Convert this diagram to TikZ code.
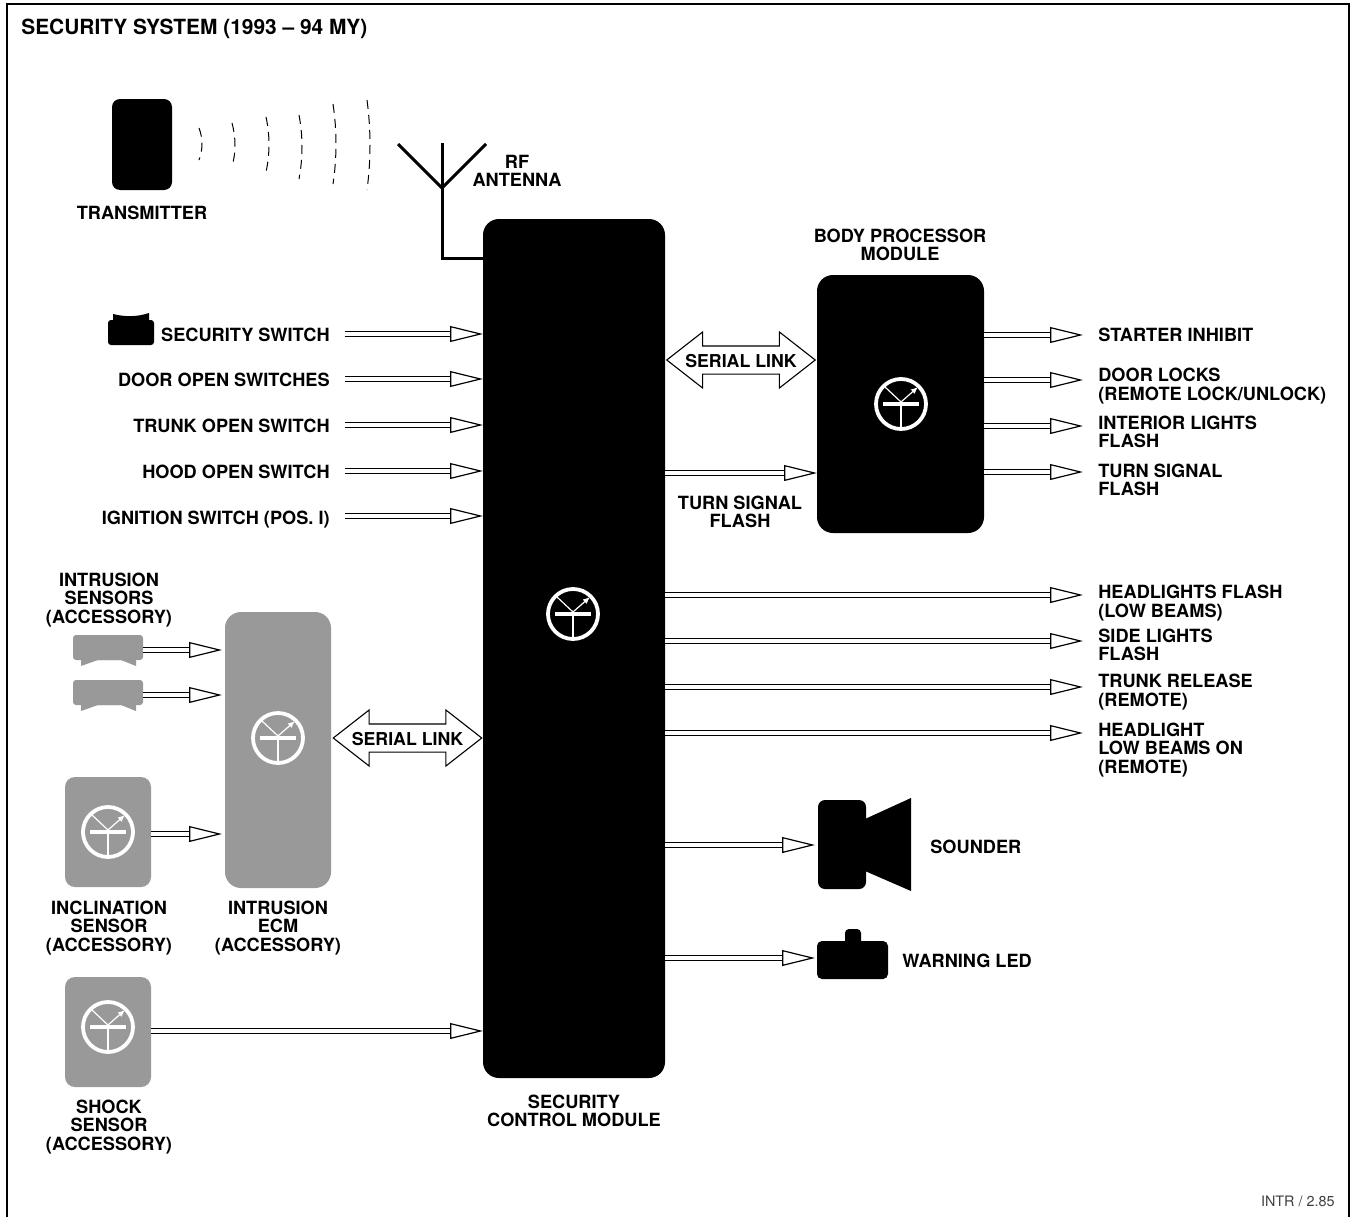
\documentclass[tikz,border=0pt]{standalone}
\usepackage{fontspec}
\setmainfont{TeX Gyre Heros}
\usetikzlibrary{
  arrows.meta,
  calc,
  shapes.arrows
}
\definecolor{modgray}{RGB}{153,153,153}
\newlength{\px}
\setlength{\px}{0.02cm}
\tikzset{
  sigflow/.style={
    draw=black,line width=1.2\px,double=white,double distance=4.4\px,
    -{Triangle[open,fill=white,length=18.7pt,width=9pt,line width=0.68pt]}
  },
  module/.style={fill=black,rounded corners=#1\px},
  module/.default=16,
  graymodule/.style={fill=modgray,rounded corners=#1\px},
  graymodule/.default=10,
  lbl/.style={font=\fontsize{10.35pt}{10.4pt}\selectfont\bfseries,align=center,inner sep=0pt},
  lbl left/.style={lbl,anchor=west,align=left},
  lbl right/.style={lbl,anchor=east,align=right},
  seriallink/.style={
    double arrow,draw=black,fill=white,line width=1.1\px,lbl,
    font=\fontsize{10.1pt}{10.4pt}\selectfont\bfseries,
    double arrow head extend=14\px,double arrow tip angle=76,
    minimum height=147\px,text height=14\px,text depth=0pt,inner ysep=6.5\px,inner xsep=0pt
  },
  wave/.style={line width=1\px,dash pattern=on 9\px off 6\px}
}
\newcommand{\chipmark}[1]{%
  \begin{scope}[shift={(#1)},white]
    \draw[line width=3.8\px] (0,0) circle (25\px);
    \draw[line width=3.6\px] (-18,0) -- (18,0);
    \draw[line width=1.2\px] (0,0) -- (0,25);
    \draw[line width=1.2\px] (0,-2) -- (-16,-17);
    \draw[line width=1.2\px,-{Latex[length=4pt,width=3.4pt]}] (0,-2) -- (17,-17);
  \end{scope}%
}

\begin{document}
\begin{tikzpicture}[x=1\px,y=-1\px]
  \useasboundingbox (0,0) rectangle (1352,1217);

  % Frame, open at the bottom.
  \draw[line width=1.2\px] (7,1217) -- (7,4) -- (1349,4) -- (1349,1217);
  \node[lbl left,font=\fontsize{11.9pt}{12pt}\selectfont\bfseries] (title) at (21,29) {SECURITY SYSTEM (1993 – 94 MY)};
  \node[anchor=east,inner sep=0pt,font=\fontsize{8.2pt}{9pt}\selectfont,text=black!75] (ref) at (1335,1201) {INTR / 2.85};

  % Modules.
  \path[module] (483,219) rectangle (665,1078);
  \coordinate (scmw) at (483,600);
  \coordinate (scme) at (665,600);
  \path[module] (817,275) rectangle (984,533);
  \coordinate (bpmw) at (817,400);
  \coordinate (bpme) at (984,400);
  \path[graymodule=16] (225,612) rectangle (331,888);
  \coordinate (ecmw) at (222,700);
  \path[graymodule] (65,777) rectangle (151,887);
  \path[graymodule] (65,977) rectangle (151,1087);
  \chipmark{573,614}
  \chipmark{901,404}
  \chipmark{278,738}
  \chipmark{108,832}
  \chipmark{108,1027}
  \node[lbl] (scmlabel) at (574,1111) {SECURITY\\CONTROL MODULE};
  \node[lbl] (bpmlabel) at (900,245) {BODY PROCESSOR\\MODULE};
  \node[lbl] (ecmlabel) at (278,928) {INTRUSION\\ECM\\(ACCESSORY)};
  \node[lbl] (inclabel) at (109,928) {INCLINATION\\SENSOR\\(ACCESSORY)};
  \node[lbl] (shklabel) at (109,1127) {SHOCK\\SENSOR\\(ACCESSORY)};
  \node[lbl] (snslabel) at (109,600) {INTRUSION\\SENSORS\\(ACCESSORY)};

  % Transmitter and antenna.
  \path[module=8] (112,99) rectangle (172,190);
  \node[lbl] (txlabel) at (142,213) {TRANSMITTER};
  \foreach \x/\top/\bot in {202/128/160,235/123/167,269/117/172,302/115/179,336/104/184,370/100/190} {
    \draw[wave] (\x-3,\top) .. controls (\x+1,{\top+(\bot-\top)/3}) and (\x+1,{\bot-(\bot-\top)/3}) .. (\x-3,\bot);
  }
  \coordinate (ant) at (442,188);
  \coordinate (antfoot) at (442,258);
  \draw[line width=3\px] (398,144) -- (ant) -- (486,144);
  \draw[line width=3\px] (442,143) -- (ant) -- (antfoot) -- (antfoot -| scmw);
  \node[lbl] (antlabel) at (517,171) {RF\\ANTENNA};

  % Inputs.
  \path[module=3] (108,320) rectangle (154,345);
  \fill (113,320) -- (113,314) .. controls (125,317) and (137,317) .. (149,313) -- (149,320) -- cycle;
  \node[lbl right] (secsw) at (330,335) {SECURITY SWITCH};
  \node[lbl right] (doorsw) at (330,380) {DOOR OPEN SWITCHES};
  \node[lbl right] (trunksw) at (330,426) {TRUNK OPEN SWITCH};
  \node[lbl right] (hoodsw) at (330,472) {HOOD OPEN SWITCH};
  \node[lbl right] (ignsw) at (330,520) {IGNITION SWITCH (POS. I)};
  \foreach \y in {334,379,425,471,516} {
    \coordinate (in) at (345,\y);
    \draw[sigflow] (in) -- (in -| scmw);
  }

  % Intrusion sensors.
  \foreach \y in {635,680} {
    \path[graymodule=3] (73,\y) rectangle (143,\y+25);
    \fill[modgray] (81,\y+24) -- (81,\y+31) -- (98,\y+25) -- (121,\y+25) -- (136,\y+31) -- (136,\y+24) -- cycle;
  }
  \foreach \x/\y in {143/650,143/695,151/834} {
    \coordinate (sns) at (\x,\y);
    \draw[sigflow] (sns) -- (sns -| ecmw);
  }
  \coordinate (shk) at (151,1031);
  \draw[sigflow] (shk) -- (shk -| scmw);

  % Serial links.
  \node[seriallink] (link1) at (741,360) {SERIAL LINK};
  \node[seriallink] (link2) at (407.5,738) {SERIAL LINK};

  % Outputs.
  \coordinate (tsf) at (665,473);
  \draw[sigflow] (tsf) -- (tsf -| bpmw);
  \node[lbl] (tsflabel) at (740,512) {TURN SIGNAL\\FLASH};
  \foreach \y in {335,380,426,472} {
    \coordinate (out) at (984,\y);
    \draw[sigflow] (out) -- (1083,\y);
  }
  \foreach \y in {595,641,687,733} {
    \coordinate (out) at (665,\y);
    \draw[sigflow] (out) -- (1083,\y);
  }
  \node[lbl left] (starter) at (1098,335) {STARTER INHIBIT};
  \node[lbl left] (locks) at (1098,386) {DOOR LOCKS\\(REMOTE LOCK/UNLOCK)};
  \node[lbl left] (intlights) at (1098,432) {INTERIOR LIGHTS\\FLASH};
  \node[lbl left] (turnsig) at (1098,480) {TURN SIGNAL\\FLASH};
  \node[lbl left] (headfl) at (1098,603) {HEADLIGHTS FLASH\\(LOW BEAMS)};
  \node[lbl left] (sidefl) at (1098,645) {SIDE LIGHTS\\FLASH};
  \node[lbl left] (trunkrel) at (1098,692) {TRUNK RELEASE\\(REMOTE)};
  \node[lbl left] (lowon) at (1098,750) {HEADLIGHT\\LOW BEAMS ON\\(REMOTE)};

  % Sounder and warning lamp.
  \path[module=7] (818,800) rectangle (866,889);
  \fill (865,819) -- (911,798) -- (911,891) -- (865,871) -- cycle;
  \coordinate (snd) at (665,845);
  \draw[sigflow] (snd) -- (815,845);
  \node[lbl left] (sndlabel) at (930,847) {SOUNDER};
  \path[module=5] (817,941) rectangle (888,979);
  \path[module=4] (845,929) rectangle (861,945);
  \coordinate (led) at (665,958);
  \draw[sigflow] (led) -- (815,958);
  \node[lbl left] (ledlabel) at (902,961) {WARNING LED};
\end{tikzpicture}
\end{document}
